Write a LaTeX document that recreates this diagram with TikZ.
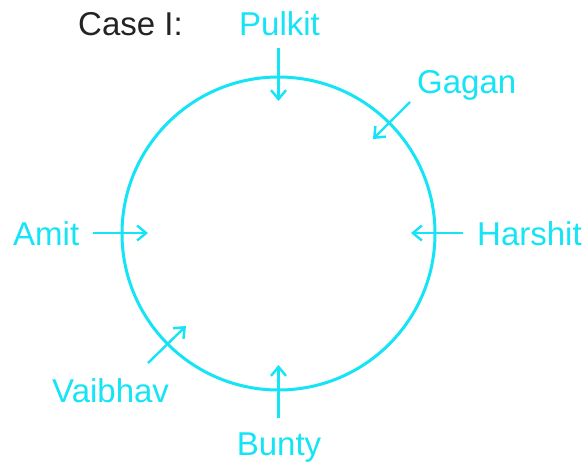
\documentclass[tikz,border=0pt]{standalone}
\usepackage{fontspec}
\setmainfont{Liberation Sans}
\usetikzlibrary{arrows.meta}
\definecolor{seat}{RGB}{20,228,245}
\definecolor{casegray}{RGB}{35,35,35}

\begin{document}
\begin{tikzpicture}
            [x=1pt,y=-1pt,every node/.style={inner sep=0,text=seat,font=\fontsize{33}{40}\selectfont},
             pointer/.style={draw=seat,line width=2.4pt,-{Straight Barb[length=9pt,width=15pt]}}]

            \useasboundingbox (0,0) rectangle (585,464);

            % the table
            \draw[seat,line width=3pt] (278.5,233.5) circle (156.5);

            % names round the table
            \node[anchor=base west,text=casegray] (case) at (78,35) {Case I:};
            \node[anchor=base] (pulkit) at (279.5,35) {Pulkit};
            \node[anchor=base west] (gagan) at (417,93) {Gagan};
            \node[anchor=base west] (harshit) at (477,245) {Harshit};
            \node[anchor=base] (bunty) at (279,455) {Bunty};
            \node[anchor=base west] (vaibhav) at (52,402) {Vaibhav};
            \node[anchor=base west] (amit) at (13,245) {Amit};

            % where each one faces
            \coordinate (p1) at (278.5,48);   \coordinate (p2) at (278.5,101);
            \coordinate (g1) at (410,102);    \coordinate (g2) at (373,139);
            \coordinate (h1) at (463,233);    \coordinate (h2) at (411,233);
            \coordinate (b1) at (278.5,418);  \coordinate (b2) at (278.5,365);
            \coordinate (v1) at (148,363);    \coordinate (v2) at (186,326);
            \coordinate (a1) at (93,233);     \coordinate (a2) at (148,233);

            \draw[pointer] (p1) -- (p2);
            \draw[pointer] (g1) -- (g2);
            \draw[pointer] (h1) -- (h2);
            \draw[pointer] (b1) -- (b2);
            \draw[pointer] (v1) -- (v2);
            \draw[pointer] (a1) -- (a2);
          \end{tikzpicture}
\end{document}
